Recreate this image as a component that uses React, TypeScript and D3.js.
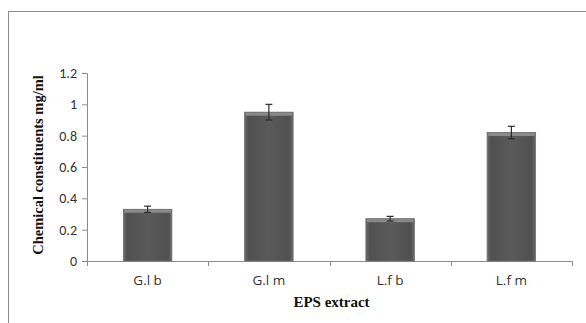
import { useEffect, useRef } from 'react';
import * as d3 from 'd3';

const categories = ['G.l b', 'G.l m', 'L.f b', 'L.f m'];
const values = [0.33, 0.95, 0.27, 0.82];
const errors = [0.02, 0.05, 0.015, 0.04];
const yTicks = [0, 0.2, 0.4, 0.6, 0.8, 1, 1.2];

function BarChart() {
  const svgRef = useRef<SVGSVGElement>(null);

  useEffect(() => {
    if (!svgRef.current) return;
    const width = 586;
    const height = 323;
    const svg = d3.select(svgRef.current);
    svg.selectAll('*').remove();
    svg.attr('width', width).attr('height', height);

    svg.append('rect').attr('width', width).attr('height', height).attr('fill', '#fff');

    // outer chart frame (cut off on the right and bottom)
    svg.append('rect')
      .attr('x', 8.5).attr('y', 11.5)
      .attr('width', 700).attr('height', 400)
      .attr('fill', 'none').attr('stroke', '#8c8c8c').attr('stroke-width', 1);

    const margin = { top: 73, left: 87, right: 14, bottom: 62 };
    const innerW = width - margin.left - margin.right;
    const innerH = height - margin.top - margin.bottom;

    const defs = svg.append('defs');
    const grad = defs.append('linearGradient').attr('id', 'barGrad')
      .attr('x1', '0%').attr('x2', '100%').attr('y1', '0%').attr('y2', '0%');
    grad.append('stop').attr('offset', '0%').attr('stop-color', '#6a6a6a');
    grad.append('stop').attr('offset', '8%').attr('stop-color', '#505050');
    grad.append('stop').attr('offset', '50%').attr('stop-color', '#5a5a5a');
    grad.append('stop').attr('offset', '92%').attr('stop-color', '#505050');
    grad.append('stop').attr('offset', '100%').attr('stop-color', '#6a6a6a');

    const g = svg.append('g').attr('transform', `translate(${margin.left},${margin.top})`);

    const x = d3.scaleBand().domain(categories).range([0, innerW]).paddingInner(0.6).paddingOuter(0.3);
    const y = d3.scaleLinear().domain([0, 1.2]).range([innerH, 0]);

    // y axis
    const yAxis = g.append('g')
      .call(d3.axisLeft(y).tickValues(yTicks).tickSize(5).tickPadding(5).tickFormat(d => String(d)));
    yAxis.select('.domain').attr('stroke', '#8c8c8c');
    yAxis.selectAll('line').attr('stroke', '#8c8c8c');
    yAxis.selectAll('text')
      .attr('fill', '#333')
      .style('font-family', 'Carlito, "Open Sans", "DejaVu Sans", sans-serif')
      .style('font-size', '14px');

    // x axis line and ticks at band edges
    const xAxis = g.append('g').attr('transform', `translate(0,${innerH})`);
    xAxis.append('line').attr('x1', 0).attr('x2', innerW).attr('y1', 0.5).attr('y2', 0.5).attr('stroke', '#8c8c8c');
    const step = x.step();
    const edges = d3.range(categories.length + 1).map(i => i * step);
    xAxis.selectAll('.xt').data(edges).enter().append('line')
      .attr('x1', d => Math.round(d) + 0.5).attr('x2', d => Math.round(d) + 0.5)
      .attr('y1', 0).attr('y2', 5).attr('stroke', '#8c8c8c');
    xAxis.selectAll('.xl').data(categories).enter().append('text')
      .attr('x', d => (x(d) as number) + x.bandwidth() / 2)
      .attr('y', 24)
      .attr('text-anchor', 'middle')
      .attr('fill', '#333')
      .style('font-family', '"Open Sans", "DejaVu Sans", sans-serif')
      .style('font-size', '13.5px')
      .text(d => d);

    // bars
    const bars = g.selectAll('.bar').data(categories).enter().append('g');
    bars.append('rect')
      .attr('x', d => x(d) as number)
      .attr('y', (d, i) => y(values[i]))
      .attr('width', x.bandwidth())
      .attr('height', (d, i) => innerH - y(values[i]))
      .attr('fill', 'url(#barGrad)')
      .attr('stroke', '#6e6e6e').attr('stroke-width', 0.8);
    bars.append('rect')
      .attr('x', d => (x(d) as number) + 1)
      .attr('y', (d, i) => y(values[i]) + 0.5)
      .attr('width', x.bandwidth() - 2)
      .attr('height', 3)
      .attr('fill', '#8a8a8a');

    // error bars
    const eb = g.selectAll('.err').data(categories).enter().append('g')
      .attr('stroke', '#2a2a2a').attr('stroke-width', 1.2);
    eb.append('line')
      .attr('x1', d => (x(d) as number) + x.bandwidth() / 2)
      .attr('x2', d => (x(d) as number) + x.bandwidth() / 2)
      .attr('y1', (d, i) => y(values[i] + errors[i]))
      .attr('y2', (d, i) => y(values[i] - errors[i]));
    eb.append('line')
      .attr('x1', d => (x(d) as number) + x.bandwidth() / 2 - 3.5)
      .attr('x2', d => (x(d) as number) + x.bandwidth() / 2 + 3.5)
      .attr('y1', (d, i) => y(values[i] + errors[i]))
      .attr('y2', (d, i) => y(values[i] + errors[i]));
    eb.append('line')
      .attr('x1', d => (x(d) as number) + x.bandwidth() / 2 - 3.5)
      .attr('x2', d => (x(d) as number) + x.bandwidth() / 2 + 3.5)
      .attr('y1', (d, i) => y(values[i] - errors[i]))
      .attr('y2', (d, i) => y(values[i] - errors[i]));

    // axis titles
    svg.append('text')
      .attr('transform', `translate(43,${margin.top + innerH / 2 - 2}) rotate(-90)`)
      .attr('text-anchor', 'middle')
      .attr('fill', '#111')
      .style('font-family', '"Liberation Serif", "Times New Roman", serif')
      .style('font-weight', 'bold')
      .style('font-size', '14.5px')
      .text('Chemical constituents mg/ml');

    svg.append('text')
      .attr('x', margin.left + innerW / 2 + 2)
      .attr('y', 307)
      .attr('text-anchor', 'middle')
      .attr('fill', '#111')
      .style('font-family', '"Liberation Serif", "Times New Roman", serif')
      .style('font-weight', 'bold')
      .style('font-size', '15px')
      .text('EPS extract');
  }, []);

  return (
    <div style={{ position: 'absolute', left: 0, top: 0 }}>
      <svg ref={svgRef} style={{ display: 'block' }}></svg>
    </div>
  );
}

export default function App() {
  return <BarChart />;
}
